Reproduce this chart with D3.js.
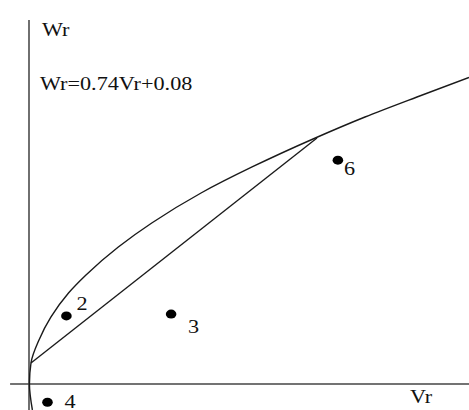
<!DOCTYPE html>
<html>
<head>
<meta charset="utf-8">
<script src="https://cdn.jsdelivr.net/npm/d3@7"></script>
<style>
	html, body { margin: 0; padding: 0; background: #fff; }
	svg { display: block; }
	text { font-family: "Liberation Serif", "Times New Roman", serif; fill: #111; }
</style>
</head>
<body>
<div id="chart"></div>
<script>
// curve (Vr, Wr), arbitrary units, origin at the axes crossing
var curveVr = [0.77, 0.1, 0.45, 2.27, 5.0, 8.98, 12.95, 20.3, 27.9, 39.1, 50.7, 64.55, 76.36, 88.18, 100];
var curveWr = [-7.14, 0, 5.77, 12.09, 18.41, 25.0, 29.95, 37.64, 44.23, 52.47, 59.62, 67.31, 73.35, 78.85, 84.2];

// straight chord Wr=0.74Vr+0.08
var chordVr = [0.45, 65.45];
var chordWr = [5.77, 67.6];

var pointLabels = ['2', '3', '6', '4'];
var pointVr = [8.5, 32.3, 70.2, 4.2];
var pointWr = [18.7, 19.2, 61.5, -5.0];

var equationText = 'Wr=0.74Vr+0.08';
var xAxisLabel = 'Vr';
var yAxisLabel = 'Wr';

var settings = {
	width: 469,
	height: 410,
	stretch: 1.17,
	fontSize: 19
};

var svg = d3.select('#chart').append('svg')
	.attr('width', settings.width)
	.attr('height', settings.height);

var x = d3.scaleLinear().domain([0, 100]).range([29, 469]),
	y = d3.scaleLinear().domain([0, 100]).range([384, 20]);

function drawText(tx, ty, str) {
	svg.append('text')
		.attr('transform', 'translate(' + tx + ',' + ty + ') scale(' + settings.stretch + ',1)')
		.attr('font-size', settings.fontSize)
		.text(str);
}

// axes
svg.append('line')
	.attr('x1', x(0)).attr('y1', y(100))
	.attr('x2', x(0)).attr('y2', settings.height)
	.attr('stroke', '#333').attr('stroke-width', 1.4);

svg.append('line')
	.attr('x1', x(-4.3)).attr('y1', y(0))
	.attr('x2', settings.width).attr('y2', y(0))
	.attr('stroke', '#444').attr('stroke-width', 1.3);

// curve
var curveData = curveVr.map(function(v, i) { return [v, curveWr[i]]; });
svg.append('path')
	.datum(curveData)
	.attr('d', d3.line()
		.x(function(d) { return x(d[0]); })
		.y(function(d) { return y(d[1]); })
		.curve(d3.curveMonotoneY))
	.attr('fill', 'none')
	.attr('stroke', '#1a1a1a')
	.attr('stroke-width', 1.4);

// chord
svg.append('line')
	.attr('x1', x(chordVr[0])).attr('y1', y(chordWr[0]))
	.attr('x2', x(chordVr[1])).attr('y2', y(chordWr[1]))
	.attr('stroke', '#1a1a1a')
	.attr('stroke-width', 1.4);

// points
var labelOffsets = [[10, -6], [17, 19], [6, 15], [17, 5.5]];
pointLabels.forEach(function(lbl, i) {
	var px = x(pointVr[i]), py = y(pointWr[i]);
	svg.append('ellipse')
		.attr('cx', px).attr('cy', py)
		.attr('rx', 5.3).attr('ry', 4.5)
		.attr('fill', '#000');
	drawText(px + labelOffsets[i][0], py + labelOffsets[i][1], lbl);
});

// labels
drawText(42, 36, yAxisLabel);
drawText(40, 90, equationText);
drawText(410, 403, xAxisLabel);
</script>
</body>
</html>
